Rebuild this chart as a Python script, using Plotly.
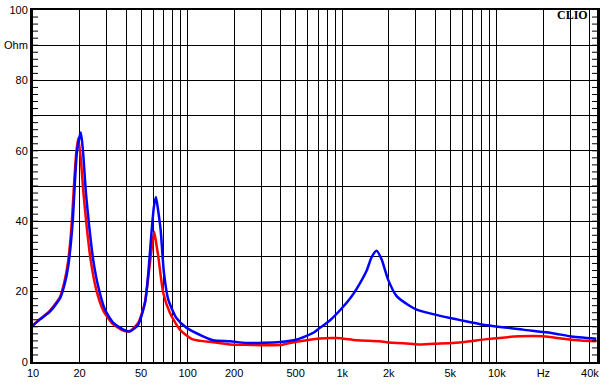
import plotly.graph_objects as go

# Blue curve (Hz, Ohm)
blue_f = [10, 11.1, 12.9, 15.0, 16.1, 16.9, 17.5, 18.1, 18.7, 19.3, 20.4, 21.1, 22.0, 23.1,
          24.5, 26.4, 29.2, 33.1, 38.4, 42.4, 47.9, 53, 55.7, 58.6, 60.5, 62.4, 64.5, 66.9,
          70.3, 75.0, 84.6, 98.6, 126, 146, 188, 241, 395, 509, 650, 717, 832, 991, 1130,
          1240, 1440, 1550, 1670, 1800, 1980, 2250, 2740, 3030, 3870, 4980, 5800, 8180,
          14800, 23000, 29700, 44000]
blue_z = [10.4, 12.1, 14.4, 18.2, 22.5, 27.2, 32.9, 40.4, 51.8, 60.3, 65.2, 59.3, 48.0, 38.5,
          29.1, 21.5, 14.9, 11.1, 9.2, 8.7, 10.6, 16.8, 25.3, 37.6, 44.0, 46.9, 43.0, 37.6,
          25.3, 17.7, 12.5, 9.7, 7.3, 6.2, 5.9, 5.4, 5.7, 6.4, 8.3, 9.7, 11.8, 15.2, 18.2,
          20.8, 26.0, 29.8, 31.6, 29.1, 23.4, 18.7, 15.9, 14.9, 13.6, 12.5, 11.9, 10.6,
          9.2, 8.2, 7.3, 6.6]

# Red curve (Hz, Ohm)
red_f = [10, 11.1, 12.9, 15.0, 16.0, 16.8, 17.4, 17.9, 18.4, 19.0, 19.6, 20.3, 21.2, 22.3,
         23.6, 25.5, 28.5, 32.5, 38, 42, 48, 53, 56, 58.5, 60.8, 62.5, 64.6, 69.6, 76.8,
         89, 108, 146, 188, 240, 395, 459, 589, 718, 920, 1240, 1750, 1940, 2750, 3180,
         3900, 5200, 6700, 8600, 14000, 20000, 27000, 35000, 44000]
red_z = [10.4, 12.2, 14.6, 18.6, 23.0, 28.0, 34.0, 41.0, 50.0, 59.0, 63.6, 58.5, 48.0, 38.0,
         29.0, 21.0, 14.6, 11.0, 9.0, 8.7, 11.2, 17.0, 25.0, 32.0, 36.9, 34.0, 30.0, 19.6, 14.0,
         9.2, 6.4, 5.6, 5.0, 4.9, 4.8, 5.4, 6.2, 6.7, 6.8, 6.2, 5.9, 5.6, 5.2, 5.0,
         5.2, 5.4, 5.9, 6.5, 7.3, 7.3, 6.6, 6.1, 5.9]

# Axis ticks
grid_f = [m * 10 ** e for e in range(1, 5) for m in range(1, 10) if m * 10 ** e <= 40000]
x_labels = {10: "10", 20: "20", 50: "50", 100: "100", 200: "200", 500: "500",
            1000: "1k", 2000: "2k", 5000: "5k", 10000: "10k", 20000: "Hz", 40000: "40k"}
y_ticks = list(range(0, 101, 10))
y_labels = ["0", "", "20", "", "40", "", "60", "", "80", "Ohm", "100"]
y_minor = list(range(2, 100, 2))

font_family = "Liberation Sans, Arial, sans-serif"

fig = go.Figure()
fig.add_trace(go.Scatter(x=red_f, y=red_z, mode="lines",
                         line=dict(color="#ff0000", width=2.5, shape="spline", smoothing=0.6)))
fig.add_trace(go.Scatter(x=blue_f, y=blue_z, mode="lines",
                         line=dict(color="#0000ff", width=2.5, shape="spline", smoothing=0.6)))

# small inside ticks on left and right frame edges
tick_frac = 5 / 564
shapes = []
for v in y_minor:
    shapes.append(dict(type="line", xref="paper", yref="y", x0=0, x1=tick_frac, y0=v, y1=v,
                       line=dict(color="black", width=1), layer="above"))
    shapes.append(dict(type="line", xref="paper", yref="y", x0=1 - tick_frac, x1=1, y0=v, y1=v,
                       line=dict(color="black", width=1), layer="above"))

fig.update_layout(
    width=609, height=391,
    margin=dict(l=33, r=12, t=10, b=29),
    paper_bgcolor="white", plot_bgcolor="white",
    showlegend=False,
    font=dict(family=font_family, size=11, color="black"),
    shapes=shapes,
    xaxis=dict(type="log", range=[1, 4.648], automargin=False,
               tickvals=grid_f, ticktext=[x_labels.get(v, "") for v in grid_f],
               showgrid=True, gridcolor="black", gridwidth=1,
               showline=True, linecolor="black", linewidth=2, mirror=True,
               ticks="", tickfont=dict(size=11, color="black"), zeroline=False),
    yaxis=dict(range=[0, 100], tickmode="array", tickvals=y_ticks, ticktext=y_labels,
               automargin=False,
               showgrid=True, gridcolor="black", gridwidth=1,
               showline=True, linecolor="black", linewidth=3, mirror=True,
               ticks="", tickfont=dict(size=11, color="black"), zeroline=False,
               ticklabeloverflow="allow"),
    annotations=[dict(text="<b>CLIO</b>", xref="paper", yref="paper",
                      x=0.9876, y=0.986, xanchor="right", yanchor="middle",
                      showarrow=False,
                      font=dict(family="Liberation Serif, Times New Roman, serif",
                                size=12, color="black"))],
)

fig.write_html("out.html", config={"displayModeBar": False},
               post_script="document.body.style.margin='0px';document.body.style.overflow='hidden';")
